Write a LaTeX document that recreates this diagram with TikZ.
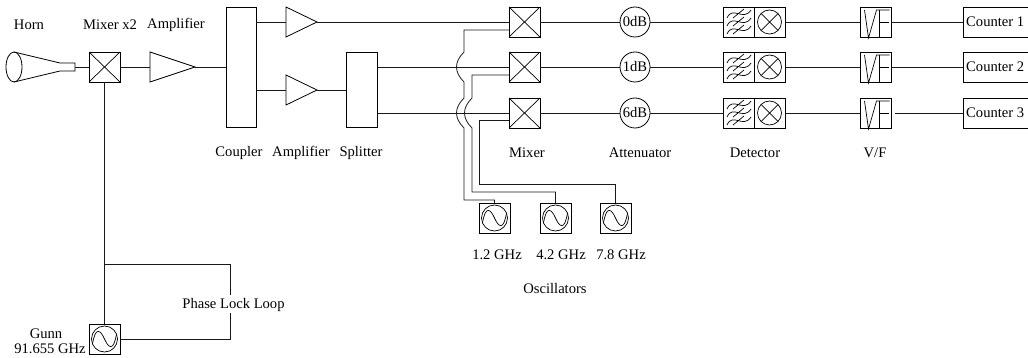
\documentclass[tikz,border=0pt]{standalone}
\usepackage{fontspec}
\setmainfont{Liberation Serif}
\usetikzlibrary{shapes.geometric}
\tikzset{
  x=1pt,y=-1pt,
  wire/.style={line width=0.8pt,black!90},
  boxn/.style={draw,line width=0.8pt,minimum width=31pt,minimum height=30pt,inner sep=0pt,outer sep=0pt},
  circn/.style={draw,circle,line width=0.8pt,minimum size=30pt,inner sep=0pt,outer sep=0pt,font=\fontsize{14.6}{15}\selectfont},
  lbl/.style={inner sep=0pt,font=\fontsize{14.6}{15}\selectfont,anchor=center},
  txtn/.style={inner sep=0pt,font=\fontsize{14.6}{15}\selectfont},
  sym/.style={line width=0.7pt},
}
\newcommand{\mixsym}[1]{\draw[sym] (#1.north west)--(#1.south east) (#1.north east)--(#1.south west);}
\newcommand{\oscsym}[1]{
  \node[draw,circle,line width=0.7pt,minimum size=26pt,inner sep=0pt] at (#1.center) {};
  \draw[sym] ([shift={(-12,5)}]#1.center) .. controls ([shift={(-9,-13)}]#1.center) and ([shift={(-4,-9)}]#1.center) .. (#1.center) .. controls ([shift={(4,9)}]#1.center) and ([shift={(9,13)}]#1.center) .. ([shift={(12,-5)}]#1.center);}
\newcommand{\ampn}[4]{\node[draw,line width=0.8pt,isosceles triangle,isosceles triangle stretches,minimum height=#4pt,minimum width=30pt,inner sep=0pt,outer sep=0pt,anchor=west] (#1) at (#2,#3) {};}
\begin{document}
\begin{tikzpicture}
\useasboundingbox (0,0) rectangle (1028,358);
% horn
\coordinate (feedtl) at (60,63); \coordinate (feedtr) at (75,63);
\coordinate (feedbl) at (60,71); \coordinate (feedbr) at (75,71);
\coordinate (feede) at (75,67);
\draw[line width=0.8pt] (14,67) ellipse (8pt and 15pt);
\coordinate (ht) at (14,52); \coordinate (hb) at (14,82);
\draw[line width=0.8pt] (ht)--(feedtl)--(feedtr)--(feedbr)--(feedbl)--(hb);
% front end
\node[boxn] (mx) at (104.5,67) {}; \mixsym{mx}
\ampn{a1}{150}{67}{45}
\node[boxn,minimum width=30pt,minimum height=120pt] (coup) at (241,67) {};
\ampn{a2}{286}{22}{31}
\ampn{a3}{286}{90}{31}
\node[boxn,minimum height=75pt] (split) at (361.5,89.5) {};
\draw[wire] (feede)--(mx.west) (mx.east)--(a1.west) (a1.apex)--(coup.west|-a1.apex);
\draw[wire] (coup.east|-a2.west)--(a2.west);
\draw[wire] (coup.east|-a3.west)--(a3.west);
\draw[wire] (a3.apex)--(split.west|-a3.apex);
% rows
\foreach \n/\y/\att/\cnt in {1/22/0dB/Counter 1,2/67/1dB/Counter 2,3/113/6dB/Counter 3}{
  \node[boxn] (m\n) at (524.5,\y) {}; \mixsym{m\n}
  \node[circn] (at\n) at (635,\y) {\att};
  \node[boxn] (f\n) at (739,\y) {};
  \node[boxn] (d\n) at (769.5,\y) {};
  \node[draw,circle,line width=0.7pt,minimum size=24pt,inner sep=0pt] at (d\n.center) {};
  \draw[sym] ([shift={(-8.5,-8.5)}]d\n.center)--([shift={(8.5,8.5)}]d\n.center) ([shift={(8.5,-8.5)}]d\n.center)--([shift={(-8.5,8.5)}]d\n.center);
  \foreach \o in {-8,0,8}{
    \draw[line width=0.7pt] ([shift={(-12,\o+4)}]f\n.center) .. controls ([shift={(-6,\o-9)}]f\n.center) and ([shift={(4,\o+8)}]f\n.center) .. ([shift={(12,\o-4)}]f\n.center);
    \draw[line width=0.7pt] ([shift={(-6,\o+4)}]f\n.center)--([shift={(5,\o-5)}]f\n.center);
  }
  \node[boxn] (v\n) at (875.5,\y) {};
  \draw[sym] ([shift={(-11,-12)}]v\n.center)--([shift={(-7,16)}]v\n.center)--([shift={(1,-12)}]v\n.center)--([shift={(14,-12)}]v\n.center);
  \draw[sym] ([shift={(4,-12)}]v\n.center)--([shift={(4,15)}]v\n.center) ([shift={(4,0)}]v\n.center)--([shift={(13,0)}]v\n.center);
  \node[boxn,minimum width=65pt,anchor=west] (c\n) at (963,\y) {};
  \node[txtn,anchor=west] (ct\n) at (966,\y) {\cnt};
  \draw[wire] (m\n.east)--(at\n.west);
  \draw[wire] (at\n.east)--(f\n.west);
  \draw[wire] (d\n.east)--(v\n.west);
}
\draw[wire] (v1.east)--(c1.west) (v2.east)--(c2.west);
\coordinate (v3s) at (895,113);
\draw[wire] (v3s)--(c3.west);
\draw[wire] (a2.apex)--(m1.west);
\draw[wire] (split.east|-m2.west)--(m2.west);
\draw[wire] (split.east|-m3.west)--(m3.west);
% oscillators
\node[boxn] (o1) at (494.5,218) {}; \oscsym{o1}
\node[boxn] (o2) at (555.5,218) {}; \oscsym{o2}
\node[boxn] (o3) at (615.5,218) {}; \oscsym{o3}
\coordinate (i1) at (509,30); \coordinate (i2) at (509,75); \coordinate (i3) at (509,120);
\draw[wire] (o1.north)--(494.5,200)--(464,200)--(464,128) .. controls (454,118) and (454,108) .. (464,98) --(464,82) .. controls (454,72) and (454,62) .. (464,52)--(464,30)--(i1);
\draw[wire] (o2.north)--(555.5,192)--(472,192)--(472,128) .. controls (462,118) and (462,108) .. (472,98)--(472,75)--(i2);
\draw[wire] (o3.north)--(615.5,184)--(479,184)--(479,120)--(i3);
% gunn
\node[boxn] (gunn) at (104.5,339) {}; \oscsym{gunn}
\node[txtn] (pll) at (233.5,305) {Phase Lock Loop};
\coordinate (br) at (104.5,264);
\coordinate (pt) at (230,295);
\coordinate (pb) at (230,313);
\draw[wire] (mx.south)--(gunn.north);
\draw[wire] (br)-|(pt);
\draw[wire] (gunn.east)-|(pb);
% labels
\foreach \t/\a/\b/\c in {Horn/tHorn/29/25,Mixer x2/tMx/110/25,Amplifier/tA1/176/25,Coupler/tCp/239/153,Amplifier/tA2/301/153,Splitter/tSp/361/153,Mixer/tMi/527/153,Attenuator/tAt/640/153,Detector/tDe/755/153,{V/F}/tVF/875/153,1.2 GHz/tO1/497/255,4.2 GHz/tO2/561/255,7.8 GHz/tO3/621/255,Oscillators/tOs/555/289,Gunn/tGu/46/334,91.655 GHz/tGf/50/349}
  \node[lbl] (\a) at (\b,\c) {\t};
\end{tikzpicture}
\end{document}
